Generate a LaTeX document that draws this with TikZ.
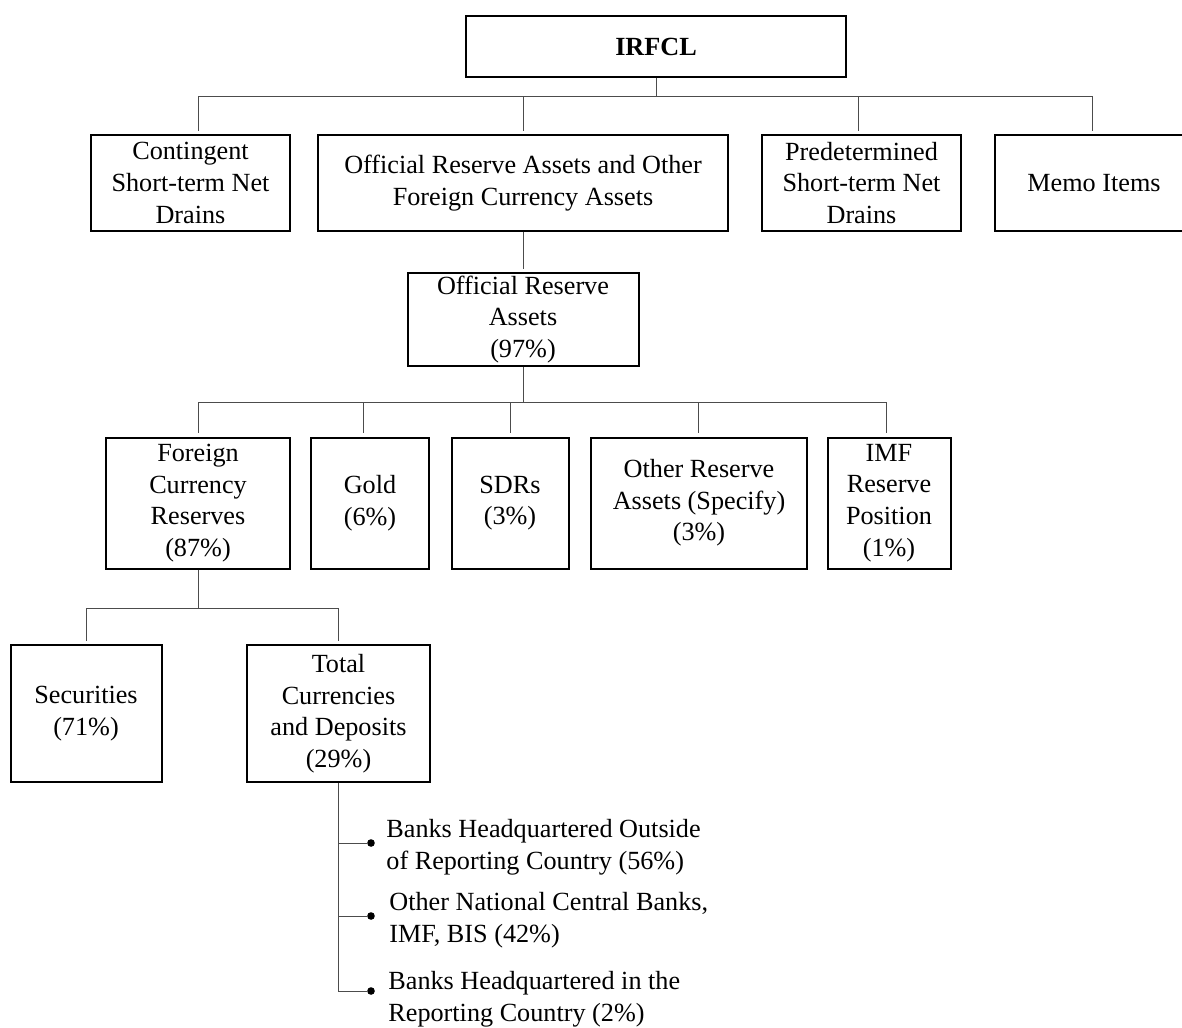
\documentclass[tikz,border=0pt]{standalone}
\usepackage{fontspec}
\setmainfont{Liberation Serif}
\begin{document}
\begin{tikzpicture}[x=0.5pt,y=-0.5pt,
  every node/.style={font=\fontsize{13.1}{15.8}\selectfont},
  box/.style={draw, line width=1pt, align=center, inner sep=0pt},
  conn/.style={draw=black!70, line width=0.5pt},
  child/.style={conn, shorten >=1.6pt},
  dot/.style={circle, fill=black, inner sep=0pt, minimum size=3.8pt}]
  \useasboundingbox (0,0) rectangle (1182,1027);
  % boxes
  \node[box, minimum width=190pt, minimum height=30.5pt] (irfcl) at (656,46.5) {\textbf{IRFCL}};
  \node[box, minimum width=99.5pt, minimum height=48pt] (cont) at (190.5,183) {Contingent\\Short-term Net\\Drains};
  \node[box, minimum width=205pt, minimum height=48pt] (orafca) at (523,183) {Official Reserve Assets and Other\\Foreign Currency Assets};
  \node[box, minimum width=99.5pt, minimum height=48pt] (pred) at (861.5,183) {Predetermined\\Short-term Net\\Drains};
  \node[box, minimum width=99pt, minimum height=48pt] (memo) at (1094,183) {Memo Items};
  \node[box, minimum width=115.5pt, minimum height=46.5pt] (ora) at (523,319.5) {Official Reserve\\Assets\\(97\%)};
  \node[box, minimum width=92pt, minimum height=65.5pt] (fcr) at (198,503) {Foreign\\Currency\\Reserves\\(87\%)};
  \node[box, minimum width=59pt, minimum height=65.5pt] (gold) at (370,503) {Gold\\(6\%)};
  \node[box, minimum width=58.5pt, minimum height=65.5pt] (sdr) at (510,503) {SDRs\\(3\%)};
  \node[box, minimum width=108pt, minimum height=65.5pt] (oras) at (699,503) {Other Reserve\\Assets (Specify)\\(3\%)};
  \node[box, minimum width=61.5pt, minimum height=65.5pt] (imf) at (889,503) {IMF\\Reserve\\Position\\(1\%)};
  \node[box, minimum width=75.5pt, minimum height=68.5pt] (sec) at (86,713.5) {Securities\\(71\%)};
  \node[box, minimum width=91.5pt, minimum height=68.5pt] (tcd) at (338.5,713.5) {Total\\Currencies\\and Deposits\\(29\%)};
  % bullets
  \node[dot] (d1) at (371,843) {};
  \node[dot] (d2) at (371,916) {};
  \node[dot] (d3) at (371,991) {};
  \node[anchor=west, align=left, inner sep=0pt] (t1) at (386,847) {Banks Headquartered Outside\\of Reporting Country (56\%)};
  \node[anchor=west, align=left, inner sep=0pt] (t2) at (389,920) {Other National Central Banks,\\IMF, BIS (42\%)};
  \node[anchor=west, align=left, inner sep=0pt] (t3) at (388,999) {Banks Headquartered in the\\Reporting Country (2\%)};
  % connectors
  \coordinate (bus1) at (656,97);
  \coordinate (bus2) at (523,402);
  \coordinate (bus3) at (198,608);
  \draw[conn] (irfcl.south) -- (bus1);
  \draw[child] (bus1) -| ([xshift=3.75pt]cont.north);
  \draw[child] (bus1) -| (orafca.north);
  \draw[child] (bus1) -| ([xshift=-1.75pt]pred.north);
  \draw[child] (bus1) -| ([xshift=-1pt]memo.north);
  \draw[child] (orafca.south) -- (ora.north);
  \draw[conn] (ora.south) -- (bus2);
  \foreach \n/\s in {fcr/0pt, gold/-3.15pt, sdr/0pt, oras/-0.5pt, imf/-1.15pt}
    \draw[child] (bus2) -| ([xshift=\s]\n.north);
  \draw[conn] (fcr.south) -- (bus3);
  \draw[child] (bus3) -| (sec.north);
  \draw[child] (bus3) -| (tcd.north);
  \foreach \d in {d1,d2,d3}
    \draw[conn] (tcd.south) |- (\d);
\end{tikzpicture}
\end{document}
